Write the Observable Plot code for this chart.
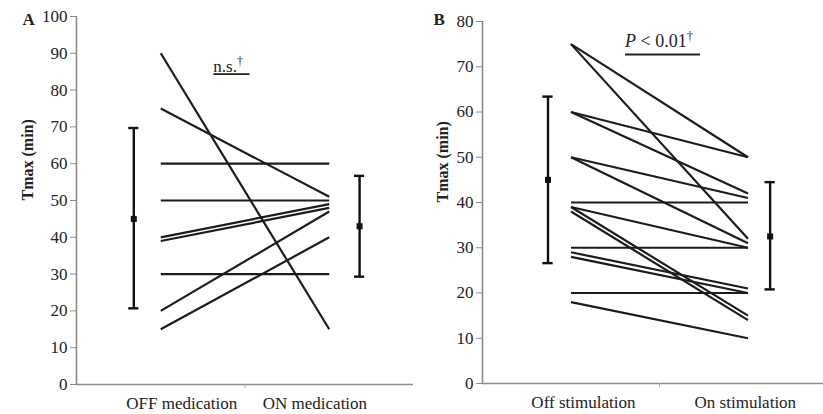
<!DOCTYPE html>
<html><head><meta charset="utf-8">
<script src="https://cdn.jsdelivr.net/npm/d3@7"></script>
<script src="https://cdn.jsdelivr.net/npm/@observablehq/plot@0.6"></script>
<style>
html,body{margin:0;padding:0;background:#fff;}
#wrap{display:flex;width:823px;height:414px;overflow:hidden;background:#fff;}
#wrap svg{flex:none;}
</style></head><body><div id="wrap"></div>
<script>
// ---------- Panel A: medication ----------
const medConditions = ["OFF medication", "ON medication"];
const medOff  = [90, 75, 60, 50, 40, 39, 30, 20, 15];
const medOn   = [15, 51, 60, 50, 49, 48, 30, 47, 40];
const medMean = [45, 43];
const medLow  = [20.7, 29.3];
const medHigh = [69.7, 56.7];
const medTicks = [0, 10, 20, 30, 40, 50, 60, 70, 80, 90, 100];

// ---------- Panel B: stimulation ----------
const stimConditions = ["Off stimulation", "On stimulation"];
const stimOff  = [75, 75, 60, 60, 50, 50, 40, 39, 39, 38, 30, 29, 28, 20, 18];
const stimOn   = [50, 32, 50, 42, 41, 31, 40, 30, 15, 14, 30, 21, 20, 20, 10];
const stimMean = [45, 32.5];
const stimLow  = [26.6, 20.8];
const stimHigh = [63.4, 44.5];
const stimTicks = [0, 10, 20, 30, 40, 50, 60, 70, 80];

const FONT = "'Liberation Serif', 'Times New Roman', Times, serif";
const AXIS_GRAY = "#8c8c8c";
const INK = "#1c1c1c";

function panel(cfg) {
  const pairs = cfg.off.map((v, i) => ({off: v, on: cfg.on[i]}));
  const errs = cfg.mean.map((m, i) => ({x: cfg.errX[i], mean: m, low: cfg.low[i], high: cfg.high[i]}));
  const caps = errs.flatMap(e => [{x: e.x, y: e.low}, {x: e.x, y: e.high}]);
  const capHalf = cfg.capHalf;
  const plot = Plot.plot({
    width: cfg.width, height: 414,
    marginLeft: cfg.left, marginRight: 0, marginTop: cfg.top, marginBottom: cfg.bottom,
    style: {fontFamily: FONT, fontSize: "17px", color: INK, background: "#fff"},
    x: {domain: [0, 4], range: cfg.xRange, axis: null},
    y: {domain: cfg.yDomain, range: [414 - cfg.bottom, cfg.top], axis: null},
    marks: [
      Plot.ruleY([0], {stroke: AXIS_GRAY, strokeWidth: 1.6}),
      Plot.ruleX([0], {stroke: AXIS_GRAY, strokeWidth: 1.6}),
      Plot.axisY({ticks: cfg.ticks, tickSize: 6, tickPadding: 3, stroke: AXIS_GRAY, fill: "#222", fontSize: 17, fontFamily: FONT, label: null}),
      Plot.axisX({ticks: cfg.xTickValues, tickSize: 4, tickFormat: () => "", stroke: "#b0b0b0", label: null}),
      Plot.link(pairs, {x1: () => 1, x2: () => 3, y1: "off", y2: "on", stroke: INK, strokeWidth: 2.2}),
      Plot.ruleX(errs, {x: "x", y1: "low", y2: "high", stroke: "#111", strokeWidth: 2.4}),
      Plot.ruleY(caps, {y: "y", x1: d => d.x - capHalf, x2: d => d.x + capHalf, stroke: "#111", strokeWidth: 2.4}),
      Plot.dot(errs, {x: "x", y: "mean", symbol: "square", r: 3.4, fill: "#111"}),
      Plot.text(cfg.conditions, {x: (d, i) => cfg.labelX[i], frameAnchor: "bottom", lineAnchor: "bottom", dy: 24, fontSize: 17, fontFamily: FONT, fill: "#222"}),
      Plot.text(["Tmax (min)"], {frameAnchor: "left", dx: cfg.titleDx, rotate: -90, fontWeight: "bold", fontSize: 16, fontFamily: FONT, fill: "#222"}),
      Plot.text([cfg.letter], {frameAnchor: "top-left", textAnchor: "start", lineAnchor: "middle", dx: cfg.letterDx, dy: cfg.letterDy, fontWeight: "bold", fontSize: 17, fontFamily: FONT, fill: "#222"})
    ]
  });
  // significance annotation
  const sx = plot.scale("x"), sy = plot.scale("y");
  const svg = d3.select(plot);
  const a = cfg.annot;
  svg.append("line")
    .attr("x1", sx.apply(a.x1)).attr("x2", sx.apply(a.x2))
    .attr("y1", sy.apply(a.lineY)).attr("y2", sy.apply(a.lineY))
    .attr("stroke", "#222").attr("stroke-width", 1.8);
  const t = svg.append("text")
    .attr("x", sx.apply(a.x1)).attr("y", sy.apply(a.textY))
    .attr("text-anchor", "start")
    .attr("font-family", FONT).attr("font-size", a.size).attr("fill", "#222");
  a.parts.forEach(p => {
    const ts = t.append("tspan").text(p.text);
    if (p.italic) ts.attr("font-style", "italic");
    if (p.sup) ts.attr("font-size", a.size * 0.7).attr("baseline-shift", "super");
  });
  return plot;
}

const wrap = document.getElementById("wrap");
wrap.appendChild(panel({
  width: 413, left: 76, top: 16, bottom: 30,
  xRange: [76, 413], yDomain: [0, 100], ticks: medTicks, xTickValues: [2, 4],
  off: medOff, on: medOn, mean: medMean, low: medLow, high: medHigh,
  conditions: medConditions, labelX: [1.25, 2.83], errX: [0.68, 3.36], capHalf: 0.06,
  letter: "A", letterDx: -54, letterDy: 3, titleDx: -49,
  annot: {x1: 1.63, x2: 2.06, lineY: 84.2, textY: 84.8, size: 17,
          parts: [{text: "n.s."}, {text: "†", sup: true}]}
}));
wrap.appendChild(panel({
  width: 410, left: 69, top: 21, bottom: 31,
  xRange: [69, 423], yDomain: [0, 80], ticks: stimTicks, xTickValues: [2],
  off: stimOff, on: stimOn, mean: stimMean, low: stimLow, high: stimHigh,
  conditions: stimConditions, labelX: [1.14, 2.97], errX: [0.74, 3.25], capHalf: 0.058,
  letter: "B", letterDx: -49, letterDy: -2, titleDx: -40,
  annot: {x1: 1.616, x2: 2.463, lineY: 72.6, textY: 74.3, size: 18,
          parts: [{text: "P", italic: true}, {text: " < 0.01"}, {text: "†", sup: true}]}
}));
</script>
</body></html>
